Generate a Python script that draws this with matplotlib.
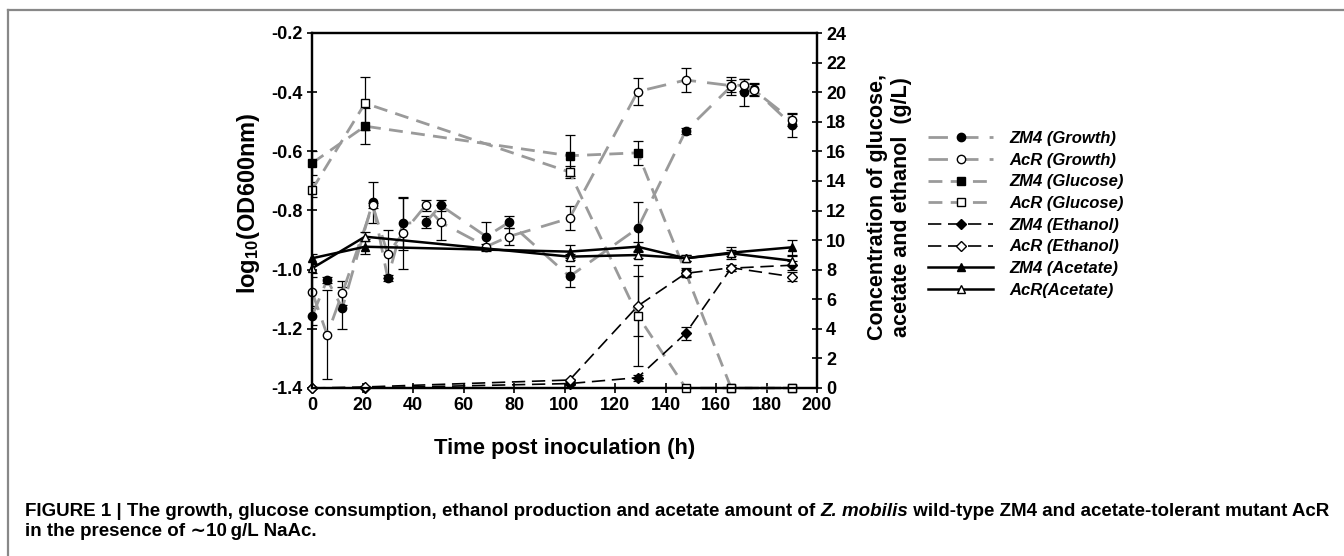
import matplotlib
matplotlib.use('Agg')
import matplotlib.pyplot as plt
from matplotlib.lines import Line2D
from matplotlib.ticker import FormatStrFormatter, MultipleLocator


# sampling times (h)
t_growth = [0, 6, 12, 24, 30, 36, 45, 51, 69, 78, 102, 129, 148, 166, 171, 175, 190]
t_hplc = [0, 21, 102, 129, 148, 166, 190]

# log10(OD600) -- left axis
zm4_growth = [-1.158, -1.034, -1.13, -0.772, -1.029, -0.843, -0.84, -0.783, -0.888,
              -0.84, -1.023, -0.86, -0.531, -0.38, -0.40, -0.39, -0.51]
zm4_growth_err = [0.03, 0.01, 0.07, 0.07, 0.01, 0.09, 0.02, 0.02, 0.05,
                  0.02, 0.034, 0.09, 0.01, 0.02, 0.046, 0.02, 0.04]
acr_growth = [-1.074, -1.22, -1.079, -0.783, -0.947, -0.877, -0.783, -0.84, -0.922,
              -0.888, -0.826, -0.398, -0.359, -0.378, -0.376, -0.393, -0.494]
acr_growth_err = [0.05, 0.15, 0.04, 0.01, 0.08, 0.12, 0.02, 0.06, 0.01,
                  0.03, 0.04, 0.045, 0.042, 0.03, 0.02, 0.02, 0.02]

# concentrations (g/L) -- right axis
zm4_glucose = [15.2, 17.7, 15.7, 15.9, 7.8, 0.0, 0.0]
zm4_glucose_err = [0.8, 1.2, 1.4, 0.8, 0.3, 0.1, 0.1]
acr_glucose = [13.4, 19.25, 14.6, 4.9, 0.0, 0.0, 0.0]
acr_glucose_err = [0.5, 1.8, 0.4, 3.4, 0.1, 0.1, 0.1]

zm4_ethanol = [0.0, 0.0, 0.3, 0.7, 3.7, 8.1, 8.3]
zm4_ethanol_err = [0.05, 0.05, 0.1, 0.2, 0.45, 0.2, 0.3]
acr_ethanol = [0.0, 0.07, 0.54, 5.54, 7.75, 8.13, 7.53]
acr_ethanol_err = [0.05, 0.05, 0.1, 2.0, 0.2, 0.2, 0.3]

zm4_acetate = [8.77, 9.55, 9.22, 9.55, 8.77, 9.15, 9.51]
zm4_acetate_err = [0.3, 0.5, 0.45, 0.3, 0.2, 0.4, 0.5]
acr_acetate = [8.09, 10.23, 8.88, 8.99, 8.77, 9.1, 8.61]
acr_acetate_err = [0.3, 0.3, 0.2, 0.2, 0.2, 0.2, 0.3]

legend_labels = ['ZM4 (Growth)', 'AcR (Growth)', 'ZM4 (Glucose)', 'AcR (Glucose)',
                 'ZM4 (Ethanol)', 'AcR (Ethanol)', 'ZM4 (Acetate)', 'AcR(Acetate)']

plt.rcParams['font.family'] = ['Liberation Sans', 'DejaVu Sans']
plt.rcParams['font.weight'] = 'bold'
plt.rcParams['axes.unicode_minus'] = False
plt.rcParams['mathtext.default'] = 'regular'

GRAY = '#9a9a9a'
ms = 6

fig = plt.figure(figsize=(13.44, 5.56), dpi=100)
ax = fig.add_axes([312 / 1344, 1 - 388 / 556, 505 / 1344, 355 / 556])
ax2 = ax.twinx()

eb = dict(fmt='none', ecolor='black', elinewidth=0.9, capsize=3.5, capthick=0.9)

# growth (left)
ax.errorbar(t_growth, zm4_growth, yerr=zm4_growth_err, **eb)
ax.errorbar(t_growth, acr_growth, yerr=acr_growth_err, **eb)
h1, = ax.plot(t_growth, zm4_growth, color=GRAY, lw=2, dashes=(7, 4), marker='o', ms=ms,
              mfc='black', mec='black')
h2, = ax.plot(t_growth, acr_growth, color=GRAY, lw=2, dashes=(7, 4), marker='o', ms=ms,
              mfc='white', mec='black')

# glucose / ethanol / acetate (right)
for y, e in [(zm4_glucose, zm4_glucose_err), (acr_glucose, acr_glucose_err),
             (zm4_ethanol, zm4_ethanol_err), (acr_ethanol, acr_ethanol_err),
             (zm4_acetate, zm4_acetate_err), (acr_acetate, acr_acetate_err)]:
    ax2.errorbar(t_hplc, y, yerr=e, **eb)
h3, = ax2.plot(t_hplc, zm4_glucose, color=GRAY, lw=2, dashes=(5, 3), marker='s', ms=ms,
               mfc='black', mec='black')
h4, = ax2.plot(t_hplc, acr_glucose, color=GRAY, lw=2, dashes=(5, 3), marker='s', ms=ms,
               mfc='white', mec='black')
h5, = ax2.plot(t_hplc, zm4_ethanol, color='black', lw=1.2, dashes=(8, 4), marker='D', ms=5.5,
               mfc='black', mec='black')
h6, = ax2.plot(t_hplc, acr_ethanol, color='black', lw=1.2, dashes=(8, 4), marker='D', ms=5.5,
               mfc='white', mec='black')
h7, = ax2.plot(t_hplc, zm4_acetate, color='black', lw=1.8, marker='^', ms=ms,
               mfc='black', mec='black')
h8, = ax2.plot(t_hplc, acr_acetate, color='black', lw=1.8, marker='^', ms=ms,
               mfc='white', mec='black')
for h in (h1, h2, h3, h4, h5, h6, h7, h8):
    h.set_clip_on(False)

ax.set_xlim(0, 200)
ax.set_ylim(-1.4, -0.2)
ax2.set_ylim(0, 24)
ax.xaxis.set_major_locator(MultipleLocator(20))
ax.yaxis.set_major_locator(MultipleLocator(0.2))
ax.yaxis.set_major_formatter(FormatStrFormatter('%.1f'))
ax2.yaxis.set_major_locator(MultipleLocator(2))

for a in (ax, ax2):
    a.tick_params(direction='inout', length=7, width=1.2, labelsize=13, pad=3)
    for s in a.spines.values():
        s.set_linewidth(1.6)
for lab in ax.get_xticklabels() + ax.get_yticklabels() + ax2.get_yticklabels():
    lab.set_fontweight('bold')

ax.set_xlabel('Time post inoculation (h)', fontsize=15.8, fontweight='bold', labelpad=17)
ax.set_ylabel('log$_{10}$(OD600nm)', fontsize=17, fontweight='bold')
ax.yaxis.set_label_coords(-0.1, 0.52)
ax2.set_ylabel('Concentration of glucose,\nacetate and ethanol  (g/L)', fontsize=15.5,
               fontweight='bold', linespacing=1.15)
ax2.yaxis.set_label_coords(1.1, 0.51)

fig.legend([h1, h2, h3, h4, h5, h6, h7, h8], legend_labels,
           loc='upper left', bbox_to_anchor=(928 / 1344, 1 - 131 / 556),
           frameon=False, borderpad=0, borderaxespad=0,
           handlelength=3.9, labelspacing=0.40, handletextpad=1.0,
           prop=dict(family='Liberation Sans', weight='bold', style='italic', size=12))

# page frame lines
fig.add_artist(Line2D([8 / 1344, 1], [1 - 10 / 556, 1 - 10 / 556], color='#888888', lw=1.6,
                      transform=fig.transFigure))
fig.add_artist(Line2D([8 / 1344, 8 / 1344], [0, 1 - 10 / 556], color='#888888', lw=1.6,
                      transform=fig.transFigure))

# caption, drawn piece by piece to mix upright and italic
cap = 13.5
renderer = fig.canvas.get_renderer()
x0 = 25 / 1344
y1 = 1 - 512 / 556
y2 = 1 - 531 / 556
pieces = [('FIGURE 1 | The growth, glucose consumption, ethanol production and acetate amount of ', 'normal'),
          ('Z. mobilis', 'italic'),
          (' wild-type ZM4 and acetate-tolerant mutant AcR', 'normal')]
x = x0
for txt, st in pieces:
    t = fig.text(x, y1, txt, fontsize=cap, fontweight='bold', style=st, va='center', ha='left')
    bb = t.get_window_extent(renderer)
    x += bb.width / fig.bbox.width
fig.text(x0, y2, 'in the presence of \u223c10\u2009g/L NaAc.', fontsize=cap, fontweight='bold',
         va='center', ha='left')

fig.savefig('out.png', dpi=100)
